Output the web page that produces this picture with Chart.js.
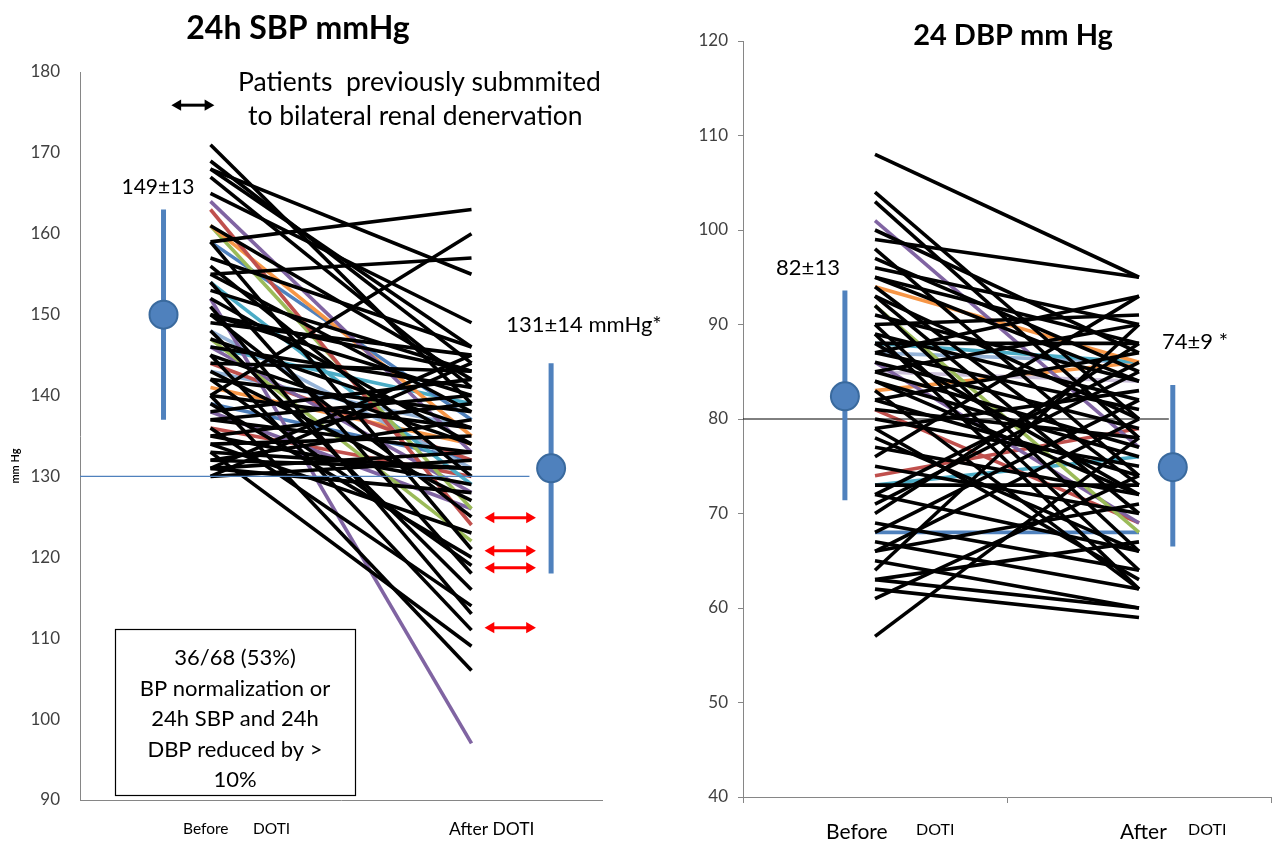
<!DOCTYPE html>
<html><head><meta charset="utf-8">
<script src="https://cdn.jsdelivr.net/npm/chart.js@4"></script>
<style>
html,body{margin:0;padding:0;background:#fff;width:1287px;height:843px;overflow:hidden}
canvas{position:absolute;top:0}
#c1{left:0}
#c2{left:690px}
</style></head><body>
<canvas id="c1" width="690" height="843"></canvas>
<canvas id="c2" width="597" height="843"></canvas>
<script>
// ---------- DATA ----------
const categories = ['Before DOTI', 'After DOTI'];
const catX = [1, 2];

// 24h SBP per patient (before, after)
const sbpBefore = [171,169,168,168,167,165,164,163,161,161,161,159,159,159,157,156,155,155,154,154,153,152,152,151,150,150,149,148,148,147,147,146,146,145,145,144,144,143,142,142,141,140,140,140,139,139,138,138,137,137,136,136,135,135,134,134,133,133,132,132,131,131,131,130,130,143,146,150];
const sbpAfter  = [139,144,155,146,141,149,133,124,135,126,142,137,163,121,146,130,157,138,129,118,143,97,134,113,140,125,145,131,116,136,122,141,128,134,111,143,132,127,138,119,134,106,160,136,132,120,142,126,140,133,130,114,139,129,135,123,131,109,137,131,145,128,133,132,144,136,139,143];
const sbpColorKeys = ['K','K','K','K','K','K','P','R','O','G','K','B','K','K','K','K','K','K','T','K','K','P','K','K','K','K','K','LB','K','K','G','K','P','K','K','K','R','K','K','K','O','K','K','K','B','K','K','P','K','K','R','K','K','K','K','K','K','K','K','K','K','K','K','K','K','LB','T','K'];
const sbpMeanLabels = ['149±13', '131±14 mmHg*'];
const sbpMeanDrawn = [150, 131];
const sbpBarLow = [137, 118];
const sbpBarHigh = [163, 144];
const sbpTarget = 130;
const sbpNormalizedAfter = [124.9, 120.8, 118.7, 111.3];

// 24h DBP per patient (before, after)
const dbpBefore = [108,104,103,101,100,99,98,97,96,95,94,94,93,92,91,90,89,88,88,87,87,86,86,85,85,84,84,83,82,81,81,80,79,79,77,76,74,73,73,72,71,69,68,68,67,66,65,64,63,62,61,57,89,90,92,95,87,70,75,78,83,88,66,72,85,82,63,93];
const dbpAfter  = [95,80,78,77,87,95,74,85,90,88,73,86,70,68,84,91,82,88,86,81,86,79,69,84,90,76,72,86,87,69,78,75,83,63,72,93,79,76,73,66,85,64,68,82,62,71,60,90,67,59,74,78,62,64,66,84,93,88,70,66,62,72,80,86,77,74,60,80];
const dbpColorKeys = ['K','K','K','P','K','K','K','K','K','K','K','O','K','G','K','K','K','K','T','K','LB','K','P','L','K','K','K','O','K','R','K','K','K','K','K','K','R','T','K','K','K','K','B','K','K','K','K','K','K','K','K','K','K','K','K','K','K','K','K','K','K','K','K','K','K','K','K','K'];
const dbpMeanLabels = ['82±13', '74±9 *'];
const dbpMeanDrawn = [82.4, 74.9];
const dbpBarLow = [71.4, 66.5];
const dbpBarHigh = [93.6, 83.6];
const dbpTarget = 80;

const sbpTicks = [90,100,110,120,130,140,150,160,170,180];
const dbpTicks = [40,50,60,70,80,90,100,110,120];

// ---------- STYLE ----------
const palette = {K:'#000000', P:'#8064A2', R:'#C0504D', G:'#9BBB59', O:'#F79646', B:'#4F81BD', T:'#4BACC6', LB:'#95B3D7', L:'#CCC1DA'};
const FONT = 'Lato, "Open Sans", sans-serif';
const AXIS = '#868686';
const BLUE = '#4F81BD';

function patientDatasets(before, after, keys) {
  return before.map((b, i) => ({
    type: 'line',
    data: [{x: catX[0], y: b}, {x: catX[1], y: after[i]}],
    borderColor: palette[keys[i]],
    borderWidth: 3.6,
    pointRadius: 0,
    order: 10 + (keys[i] === 'K' ? 0 : 1)
  }));
}
function markerDatasets(xs, means, lo, hi) {
  const ds = [];
  xs.forEach((x, i) => {
    ds.push({type:'line', data:[{x, y: lo[i]}, {x, y: hi[i]}], borderColor: BLUE, borderWidth: 5, pointRadius: 0, order: 2});
  });
  ds.push({type:'scatter', data: xs.map((x, i) => ({x, y: means[i]})), backgroundColor: BLUE, borderColor: '#3A6A9E', borderWidth: 2, pointRadius: 14, pointHoverRadius: 14, order: 0});
  return ds;
}
function arrowDataset(x0, x1, y, color) {
  return {type:'line', data:[{x:x0, y}, {x:x1, y}], borderColor: color, backgroundColor: color, borderWidth: 3,
    pointStyle: 'triangle', pointRadius: 6.5, pointRotation: [270, 90], pointBorderWidth: 0, order: 1};
}
function text(ctx, s, x, y, font, align, color) {
  ctx.save();
  ctx.font = font; ctx.fillStyle = color || '#000'; ctx.textAlign = align || 'left'; ctx.textBaseline = 'middle';
  ctx.fillText(s, x, y);
  ctx.restore();
}

Chart.defaults.font.family = FONT;

// ---------- LEFT CHART ----------
const leftDatasets = [
  ...patientDatasets(sbpBefore, sbpAfter, sbpColorKeys),
  {type:'line', data:[{x:0.5, y:sbpTarget}, {x:2.222, y:sbpTarget}], borderColor: BLUE, borderWidth: 1.3, pointRadius: 0, order: 3},
  ...markerDatasets([0.82, 2.305], sbpMeanDrawn, sbpBarLow, sbpBarHigh),
  ...sbpNormalizedAfter.map(v => arrowDataset(2.075, 2.222, v, '#FF0000')),
  arrowDataset(0.875, 0.99, 175.9, '#000000')
];

const leftPlugin = {
  id: 'leftText',
  afterDraw(chart) {
    const ctx = chart.ctx;
    text(ctx, '24h SBP mmHg', 298, 29, 'bold 32px ' + FONT, 'center');
    text(ctx, 'Patients  previously submmited', 238, 82, '26.5px ' + FONT);
    text(ctx, 'to bilateral renal denervation', 248, 116, '26.5px ' + FONT);
    text(ctx, sbpMeanLabels[0], 158, 187, '21px ' + FONT, 'center');
    text(ctx, sbpMeanLabels[1], 584, 325, '22px ' + FONT, 'center');
    // annotation box
    ctx.save(); ctx.strokeStyle = '#000'; ctx.lineWidth = 1.2; ctx.strokeRect(115.5, 629.5, 240, 166); ctx.restore();
    const lines = ['36/68 (53%)', 'BP normalization or', '24h SBP and 24h', 'DBP reduced by >', '10%'];
    lines.forEach((s, i) => text(ctx, s, 235, 658 + i * 30.5, '22px ' + FONT, 'center'));
    // y title
    ctx.save(); ctx.translate(15, 466); ctx.rotate(-Math.PI / 2);
    text(ctx, 'mm Hg', 0, 0, 'bold 11px ' + FONT, 'center'); ctx.restore();
    // x category labels
    text(ctx, 'Before', 183, 829, '15.5px ' + FONT);
    text(ctx, 'DOTI', 253, 829, '15.5px ' + FONT);
    text(ctx, 'After DOTI', 449, 829, '17.5px ' + FONT);
  }
};

new Chart(document.getElementById('c1'), {
  type: 'line',
  data: { datasets: leftDatasets },
  options: {
    responsive: false, animation: false, events: [],
    layout: { padding: { top: 72, right: 88, left: 0, bottom: 0 } },
    plugins: { legend: { display: false }, tooltip: { enabled: false } },
    scales: {
      x: { type: 'linear', min: 0.5, max: 2.5, grid: { display: false }, border: { display: true, color: AXIS, width: 1 },
           ticks: { display: false }, afterFit: s => { s.height = 43; } },
      y: { type: 'linear', min: 90, max: 180, grid: { display: false }, border: { display: true, color: AXIS, width: 1 },
           afterBuildTicks: s => { s.ticks = sbpTicks.map(v => ({value: v})); },
           ticks: { color: '#404040', font: { size: 17, family: FONT }, padding: 12 },
           afterFit: s => { s.width = 80; } }
    }
  },
  plugins: [leftPlugin]
});

// ---------- RIGHT CHART ----------
const rightDatasets = [
  ...patientDatasets(dbpBefore, dbpAfter, dbpColorKeys),
  {type:'line', data:[{x:0.5, y:dbpTarget}, {x:2.113, y:dbpTarget}], borderColor: '#000000', borderWidth: 1, pointRadius: 0, order: 3},
  ...markerDatasets([0.886, 2.128], dbpMeanDrawn, dbpBarLow, dbpBarHigh)
];

const rightPlugin = {
  id: 'rightText',
  afterDraw(chart) {
    const ctx = chart.ctx;
    const ox = 690;
    text(ctx, '24 DBP mm Hg', 1013 - ox, 36, 'bold 29px ' + FONT, 'center');
    text(ctx, dbpMeanLabels[0], 808 - ox, 268, '22px ' + FONT, 'center');
    text(ctx, dbpMeanLabels[1], 1195 - ox, 342, '22px ' + FONT, 'center');
    text(ctx, 'Before', 826 - ox, 832, '21px ' + FONT);
    text(ctx, 'DOTI', 916 - ox, 830, '16px ' + FONT);
    text(ctx, 'After', 1120 - ox, 832, '21px ' + FONT);
    text(ctx, 'DOTI', 1188 - ox, 830, '16px ' + FONT);
  }
};

new Chart(document.getElementById('c2'), {
  type: 'line',
  data: { datasets: rightDatasets },
  options: {
    responsive: false, animation: false, events: [],
    layout: { padding: { top: 41, right: 1, left: 0, bottom: 0 } },
    plugins: { legend: { display: false }, tooltip: { enabled: false } },
    scales: {
      x: { type: 'linear', min: 0.5, max: 2.5,
           grid: { display: true, drawOnChartArea: false, drawTicks: true, tickLength: 6, color: AXIS },
           border: { display: true, color: AXIS, width: 1 },
           afterBuildTicks: s => { s.ticks = [0.5, 1.5, 2.5].map(v => ({value: v})); },
           ticks: { display: false }, afterFit: s => { s.height = 46; } },
      y: { type: 'linear', min: 40, max: 120,
           grid: { display: true, drawOnChartArea: false, drawTicks: true, tickLength: 5, color: AXIS },
           border: { display: true, color: AXIS, width: 1 },
           afterBuildTicks: s => { s.ticks = dbpTicks.map(v => ({value: v})); },
           ticks: { color: '#404040', font: { size: 17, family: FONT }, padding: 10 },
           afterFit: s => { s.width = 53; } }
    }
  },
  plugins: [rightPlugin]
});
</script>
</body></html>
